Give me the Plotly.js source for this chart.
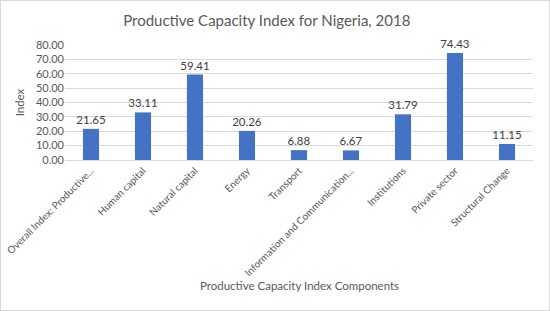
<!DOCTYPE html>
<html>
<head>
<meta charset="utf-8">
<script src="https://cdn.plot.ly/plotly-3.0.1.min.js"></script>
<style>
html,body{margin:0;padding:0;background:#fff;}
#wrap{position:absolute;left:0;top:0;width:548px;height:309px;border:1px solid #d9d9d9;}
#chart{width:548px;height:309px;}
</style>
</head>
<body>
<div id="wrap"><div id="chart"></div></div>
<script>
const categories = ["Overall Index: Productive...", "Human capital", "Natural capital", "Energy", "Transport", "Information and Communication...", "Institutions", "Private sector", "Structural Change"];
const values = [21.65, 33.11, 59.41, 20.26, 6.88, 6.67, 31.79, 74.43, 11.15];
const titleText = "Productive Capacity Index for Nigeria, 2018";
const xTitle = "Productive Capacity Index Components";
const yTitle = "Index";

const font = "Lato, 'Open Sans', sans-serif";
Plotly.newPlot("chart", [{
  type: "bar",
  x: categories,
  y: values,
  marker: {color: "#4472c4"},
  texttemplate: "%{y:.2f}",
  textposition: "outside",
  constraintext: "none",
  textfont: {family: font, size: 11.5, color: "#404040"},
  cliponaxis: false,
  hoverinfo: "none"
}], {
  width: 548, height: 309,
  margin: {l: 64, r: 16, t: 44, b: 150},
  paper_bgcolor: "#fff", plot_bgcolor: "#fff",
  font: {family: font, color: "#595959", size: 11},
  title: {text: titleText, font: {family: font, size: 15, color: "#595959"}, x: 0.485, xanchor: "center", y: 0.935, yanchor: "middle"},
  bargap: 0.69,
  xaxis: {
    tickangle: -45, tickfont: {size: 10, color: "#595959"},
    showline: true, linecolor: "#d9d9d9", ticks: "",
    automargin: false
  },
  yaxis: {
    range: [0, 80], dtick: 10, tickformat: ".2f",
    gridcolor: "#d9d9d9", zeroline: false, showline: false,
    tickfont: {size: 11, color: "#595959"},
    title: {text: yTitle, font: {size: 11.5, color: "#595959"}, standoff: 8},
    automargin: false
  },
  annotations: [{
    text: xTitle, xref: "paper", yref: "paper", x: 0.5, y: -1.09,
    xanchor: "center", yanchor: "middle", showarrow: false,
    font: {size: 11.5, color: "#595959"}
  }],
  showlegend: false
}, {displayModeBar: false, staticPlot: true});
</script>
</body>
</html>
